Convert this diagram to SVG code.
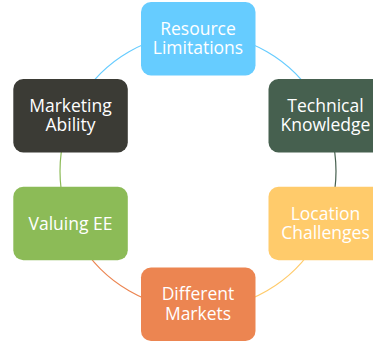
<svg xmlns="http://www.w3.org/2000/svg" width="373" height="343" viewBox="0 0 373 343">
<style>
.c{fill:none;stroke-width:1.2}
.t{font-family:"Open Sans","DejaVu Sans",sans-serif;font-size:17.5px;fill:#fff;text-anchor:middle}
</style>
<rect width="373" height="343" fill="#fff"/>
<g id="connectors">
<path class="c" stroke="#66CCFF" d="M78.49,102.25 A138,138 0 0 1 198,33.25"/>
<path class="c" stroke="#66CCFF" d="M198,33.25 A138,138 0 0 1 317.51,102.25"/>
<path class="c" stroke="#46604F" d="M317.51,102.25 A138,138 0 0 1 317.51,240.25"/>
<path class="c" stroke="#FFCB6B" d="M317.51,240.25 A138,138 0 0 1 198,309.25"/>
<path class="c" stroke="#EC8551" d="M198,309.25 A138,138 0 0 1 78.49,240.25"/>
<path class="c" stroke="#8CBB57" d="M78.49,240.25 A138,138 0 0 1 78.49,102.25"/>
</g>
<g id="resource">
<rect x="141" y="2" width="114.5" height="73.5" rx="10" fill="#66CCFF"/>
<text class="t" x="198" y="35">Resource</text>
<text class="t" x="198" y="54">Limitations</text>
</g>
<g id="technical">
<rect x="268.5" y="79" width="114.5" height="73.5" rx="10" fill="#46604F"/>
<text class="t" x="325.5" y="112">Technical</text>
<text class="t" x="325.5" y="131">Knowledge</text>
</g>
<g id="location">
<rect x="268.5" y="186.7" width="114.5" height="73.5" rx="10" fill="#FFCB6B"/>
<text class="t" x="325.5" y="219.5">Location</text>
<text class="t" x="325.5" y="238.5">Challenges</text>
</g>
<g id="different">
<rect x="141" y="267.5" width="114.5" height="73.5" rx="10" fill="#EC8551"/>
<text class="t" x="198" y="300">Different</text>
<text class="t" x="198" y="319.5">Markets</text>
</g>
<g id="valuing">
<rect x="13.3" y="186.7" width="114.5" height="73.5" rx="10" fill="#8CBB57"/>
<text class="t" x="70.5" y="229.5">Valuing EE</text>
</g>
<g id="marketing">
<rect x="13.3" y="79" width="114.5" height="73.5" rx="10" fill="#3B3B35"/>
<text class="t" x="70.5" y="112">Marketing</text>
<text class="t" x="70.5" y="131">Ability</text>
</g>
</svg>
